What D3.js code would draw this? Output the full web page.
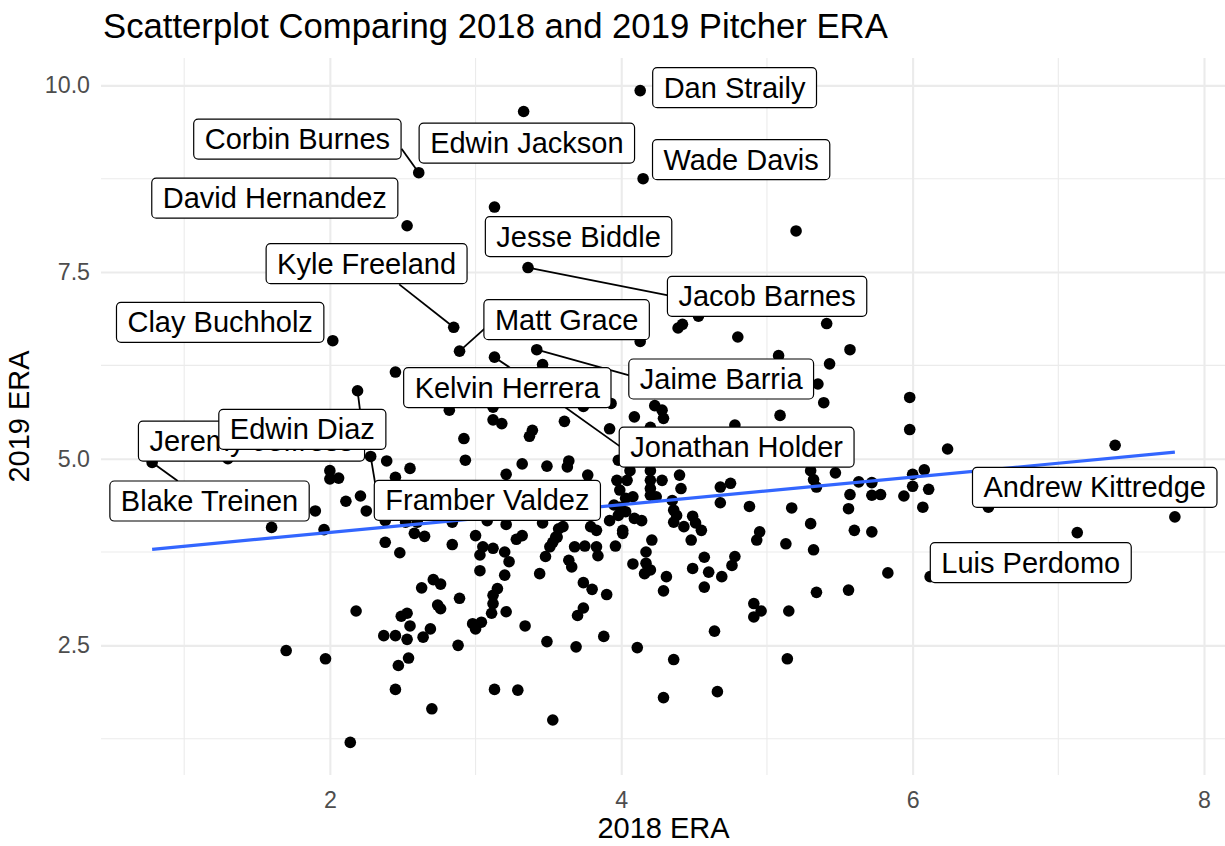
<!DOCTYPE html>
<html><head><meta charset="utf-8">
<script src="https://cdn.jsdelivr.net/npm/d3@7"></script>
<style>
body{margin:0;background:#fff}
svg{display:block}
text{font-family:"Liberation Sans",Arial,Helvetica,sans-serif}
</style>
</head><body>
<svg id="chart" width="1225" height="846"></svg>
<script>
// ---------- data ----------
const era2018 = [5.20,4.39,4.42,4.53,4.80,5.41,4.13,5.08,5.57,5.43,5.35,5.39,5.09,4.23,4.28,4.29,4.09,4.78,4.20,3.93,3.92,5.98,5.98,6.24,7.39,
2.45,2.82,3.12,3.46,3.74,3.61,3.12,3.18,3.39,3.37,2.92,2.93,2.39,2.45,2.55,3.21,3.32,3.49,3.64,3.63,3.77,3.98,3.97,4.04,3.99,4.03,4.08,
4.20,4.20,4.20,4.28,4.24,4.06,4.40,4.41,4.20,4.68,4.75,4.68,4.88,5.17,5.30,5.32,5.47,5.34,5.63,5.57,5.56,5.72,5.72,5.78,5.94,6.00,6.08,
6.00,6.11,6.07,7.80,7.13,5.60,5.72,5.83,3.99,4.03,4.09,4.14,4.35,4.36,4.38,4.49,4.51,4.43,4.55,4.36,4.21,4.48,4.93,4.95,5.30,5.13,4.01,
3.95,3.98,3.92,3.79,3.83,4.01,3.96,4.17,4.17,4.20,4.08,3.60,3.55,3.51,3.68,3.75,3.83,3.84,3.64,3.66,3.74,3.80,3.90,4.29,4.31,4.49,4.60,
4.57,4.69,4.78,4.76,4.57,4.16,4.64,4.11,4.36,4.29,4.66,5.32,5.34,5.56,4.91,4.96,4.91,5.15,5.14,2.00,2.00,2.06,2.21,2.11,2.25,1.90,1.60,
1.96,2.38,2.52,2.60,2.84,3.08,3.21,3.46,3.57,2.58,2.65,2.38,2.48,2.84,3.00,3.05,3.12,3.03,3.20,3.23,3.32,3.28,3.53,3.56,3.48,3.44,3.03,
3.20,2.71,2.76,2.63,2.89,2.74,2.76,3.15,3.12,3.12,3.21,3.11,2.18,2.53,2.49,2.55,2.69,2.98,3.04,3.34,2.37,2.45,2.53,2.64,3.00,2.88,1.70,
1.97,2.54,2.47,2.45,2.70,2.14,3.49,3.74,3.70,3.88,3.69,3.13,3.29,3.53,
// pitchers hidden beneath label boxes
4.25,4.45,4.70,5.00,5.30,4.40,4.85,5.15,4.60,5.40,7.00,2.60,3.00,3.40];
const era2019 = [8.05,6.75,6.80,6.91,6.63,6.81,6.57,6.38,6.46,6.27,6.00,5.75,5.58,5.71,5.65,5.54,5.56,5.45,5.42,5.74,5.40,5.82,5.39,5.13,5.18,
6.16,5.65,5.69,6.26,5.70,5.50,5.52,5.47,5.38,5.30,5.27,4.98,4.97,4.75,4.87,4.79,4.93,4.90,4.97,4.89,4.78,4.98,4.71,4.71,4.58,4.47,4.49,
4.84,4.71,4.60,4.71,4.49,4.84,4.78,4.60,4.51,4.62,4.67,4.41,4.36,4.34,4.84,4.72,4.81,4.62,4.69,4.52,4.33,4.68,4.51,4.52,4.50,4.79,4.85,
4.63,4.59,4.35,4.22,4.01,4.04,4.02,3.47,4.35,4.29,4.20,4.17,4.44,4.31,4.24,4.23,4.14,4.09,4.04,4.15,3.91,3.91,3.91,4.02,4.13,3.86,4.04,
4.38,4.24,4.17,4.09,4.04,4.00,3.83,3.75,3.60,3.51,3.59,4.09,3.95,3.82,3.82,3.83,3.82,3.70,3.64,3.55,3.34,3.25,3.18,3.23,3.42,3.53,3.48,
3.68,3.42,3.69,3.57,3.28,3.46,2.69,2.47,2.31,1.80,1.88,3.78,3.21,3.24,3.06,2.96,2.88,2.96,2.32,4.84,4.73,4.74,4.50,4.43,4.30,4.30,4.08,
4.05,4.17,4.15,4.15,4.15,4.17,4.12,4.14,4.06,4.00,3.96,3.88,3.74,3.85,3.97,3.82,3.80,3.71,3.75,3.62,3.97,3.92,3.88,3.95,3.69,3.46,3.50,
3.44,3.38,3.32,3.27,3.13,3.04,2.99,3.26,3.17,3.06,2.95,2.93,2.96,2.93,2.89,2.76,2.72,2.79,2.81,2.76,2.63,2.63,2.58,2.61,2.72,2.50,2.43,
2.32,2.33,2.23,1.91,1.65,1.20,2.55,3.00,2.90,2.62,2.48,1.91,1.90,1.50,
5.25,5.30,5.20,5.30,5.25,6.10,5.95,6.20,7.10,7.30,4.70,4.45,4.55,4.40];

// labelled pitchers
const labelNames = ["Dan Straily","Edwin Jackson","Wade Davis","Corbin Burnes","David Hernandez","Jesse Biddle","Kyle Freeland",
  "Jacob Barnes","Clay Buchholz","Matt Grace","Jaime Barria","Jonathan Holder","Kelvin Herrera","Jeremy Jeffress","Edwin Diaz",
  "Blake Treinen","Framber Valdez","Andrew Kittredge","Luis Perdomo"];
const label2018 = [4.13,3.33,4.15,2.61,2.53,3.13,2.85,3.36,2.02,2.89,3.42,3.55,3.13,1.30,2.19,0.78,2.28,6.52,6.12];
const label2019 = [9.93,9.65,8.75,8.83,8.12,8.37,6.76,7.56,6.58,6.44,6.46,5.78,6.36,5.00,5.91,4.95,5.03,4.35,3.42];

const xTickValues = [2,4,6,8];
const xTickLabels = ["2","4","6","8"];
const yTickValues = [2.5,5,7.5,10];
const yTickLabels = ["2.5","5.0","7.5","10.0"];
const xMinorValues = [1,3,5,7];
const yMinorValues = [1.25,3.75,6.25,8.75];

// repelled label placement (data units): box centre and segment end (null = no segment)
const labelLayout = [
  {bx:4.778,by:9.969,sx:null,sy:null},
  {bx:3.352,by:9.227,sx:null,sy:null},
  {bx:4.823,by:9.005,sx:null,sy:null},
  {bx:1.777,by:9.281,sx:2.492,sy:9.152},
  {bx:1.622,by:8.489,sx:null,sy:null},
  {bx:3.707,by:7.974,sx:null,sy:null},
  {bx:2.252,by:7.612,sx:2.476,sy:7.335},
  {bx:5.001,by:7.174,sx:4.322,sy:7.188},
  {bx:1.247,by:6.826,sx:null,sy:null},
  {bx:3.625,by:6.862,sx:3.064,sy:6.746},
  {bx:4.686,by:6.067,sx:4.055,sy:6.116},
  {bx:4.792,by:5.156,sx:3.991,sy:5.165},
  {bx:3.218,by:5.952,sx:3.236,sy:6.219},
  {bx:1.462,by:5.236,sx:null,sy:null},
  {bx:1.811,by:5.393,sx:2.206,sy:5.661},
  {bx:1.174,by:4.433,sx:0.956,sy:4.701},
  {bx:3.081,by:4.442,sx:2.312,sy:4.656},
  {bx:7.250,by:4.616,sx:null,sy:null},
  {bx:6.811,by:3.608,sx:null,sy:null}
];

// ---------- chart ----------
const panel = {left:101, right:1226, top:58, bottom:775};
const svg = d3.select("#chart");

const allX = era2018.concat(label2018);
const allY = era2019.concat(label2019);
const [x0,x1] = d3.extent(allX), [y0,y1] = d3.extent(allY);
const px = (x1-x0)*0.05, py = (y1-y0)*0.05;
const x = d3.scaleLinear().domain([x0-px, x1+px]).range([panel.left, panel.right]);
const y = d3.scaleLinear().domain([y0-py, y1+py]).range([panel.bottom, panel.top]);

const grid = svg.append("g");
grid.selectAll("line.vx").data(xMinorValues).join("line")
  .attr("x1",d=>x(d)).attr("x2",d=>x(d)).attr("y1",panel.top).attr("y2",panel.bottom)
  .attr("stroke","#ebebeb").attr("stroke-width",1.1);
grid.selectAll("line.hy").data(yMinorValues).join("line")
  .attr("y1",d=>y(d)).attr("y2",d=>y(d)).attr("x1",panel.left).attr("x2",panel.right)
  .attr("stroke","#ebebeb").attr("stroke-width",1.1);

const xAxis = svg.append("g").attr("transform",`translate(0,${panel.bottom})`)
  .call(d3.axisBottom(x).tickValues(xTickValues).tickFormat((d,i)=>xTickLabels[i])
        .tickSize(-(panel.bottom-panel.top)).tickPadding(17));
const yAxis = svg.append("g").attr("transform",`translate(${panel.left},0)`)
  .call(d3.axisLeft(y).tickValues(yTickValues).tickFormat((d,i)=>yTickLabels[i])
        .tickSize(-(panel.right-panel.left)).tickPadding(11));
[xAxis,yAxis].forEach(g=>{
  g.select(".domain").remove();
  g.selectAll(".tick line").attr("stroke","#ebebeb").attr("stroke-width",2.1);
  g.selectAll(".tick text").attr("fill","#4d4d4d").style("font-size","23.2px")
    .style("font-family",'"Liberation Sans",Arial,sans-serif');
});

// points
svg.append("g").selectAll("circle").data(d3.range(era2018.length)).join("circle")
  .attr("cx",i=>x(era2018[i])).attr("cy",i=>y(era2019[i])).attr("r",5.8).attr("fill","#000");
svg.append("g").selectAll("circle").data(d3.range(label2018.length)).join("circle")
  .attr("cx",i=>x(label2018[i])).attr("cy",i=>y(label2019[i])).attr("r",5.8).attr("fill","#000");

// linear fit (least squares on all pitchers)
const mx = d3.mean(allX), my = d3.mean(allY);
let sxy=0, sxx=0;
allX.forEach((v,i)=>{ sxy += (v-mx)*(allY[i]-my); sxx += (v-mx)*(v-mx); });
const slope = sxy/sxx, icpt = my - slope*mx;
svg.append("line")
  .attr("x1",x(x0)).attr("y1",y(icpt+slope*x0)).attr("x2",x(x1)).attr("y2",y(icpt+slope*x1))
  .attr("stroke","#3366FF").attr("stroke-width",3.2);

// label segments
const segG = svg.append("g");
labelLayout.forEach((L,i)=>{
  if(L.sx===null) return;
  segG.append("line").attr("x1",x(label2018[i])).attr("y1",y(label2019[i]))
    .attr("x2",x(L.sx)).attr("y2",y(L.sy)).attr("stroke","#000").attr("stroke-width",1.8);
});

// label boxes
const labG = svg.append("g");
const FS = 29;
labelLayout.forEach((L,i)=>{
  const g = labG.append("g");
  const cx = x(L.bx), cy = y(L.by);
  const rect = g.append("rect");
  const t = g.append("text").text(labelNames[i]).attr("x",cx).attr("y",cy+FS*0.345)
    .attr("text-anchor","middle").style("font-size",FS+"px").attr("fill","#000");
  const w = t.node().getComputedTextLength() + 22, h = 40;
  rect.attr("x",cx-w/2).attr("y",cy-h/2).attr("width",w).attr("height",h)
    .attr("rx",4.5).attr("ry",4.5).attr("fill","#fff").attr("stroke","#000").attr("stroke-width",1.2);
});

// titles
svg.append("text").attr("x",103).attr("y",38).text("Scatterplot Comparing 2018 and 2019 Pitcher ERA")
  .style("font-size","34.7px").attr("fill","#000");
svg.append("text").attr("x",(panel.left+panel.right)/2).attr("y",838).attr("text-anchor","middle")
  .text("2018 ERA").style("font-size","29px").attr("fill","#000");
svg.append("text").attr("transform",`translate(29,${(panel.top+panel.bottom)/2}) rotate(-90)`)
  .attr("text-anchor","middle").text("2019 ERA").style("font-size","29px").attr("fill","#000");
</script>
</body></html>
